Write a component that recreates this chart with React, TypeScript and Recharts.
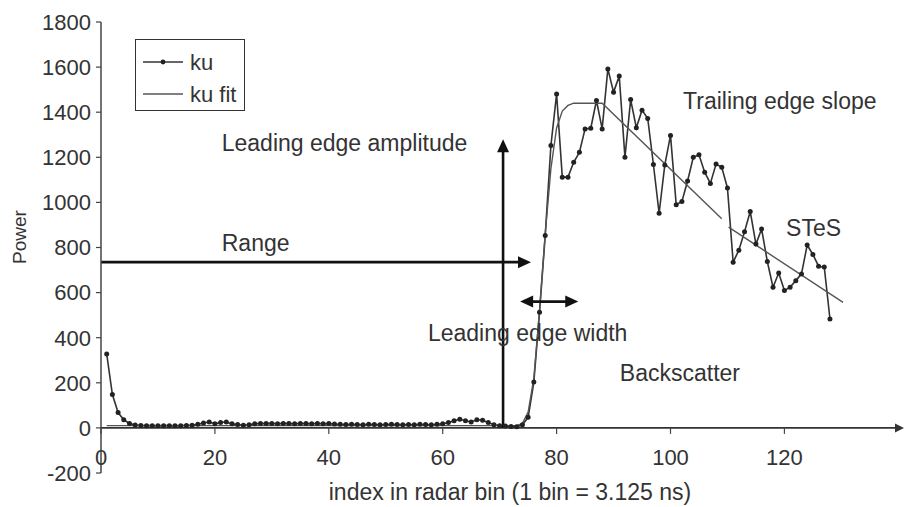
import React from 'react';
import { LineChart, Line, XAxis, YAxis, ReferenceLine, ReferenceDot, Legend } from 'recharts';

// ku waveform, one value per radar bin (bin 1 .. 128)
const kuPower = [
  328, 148, 68, 36, 20, 13, 11, 10, 10, 9,
  10, 10, 9, 10, 11, 12, 16, 22, 26, 18,
  24, 26, 18, 15, 12, 14, 18, 20, 19, 20,
  18, 20, 19, 18, 20, 19, 18, 20, 18, 19,
  17, 16, 15, 16, 15, 14, 16, 15, 14, 15,
  16, 15, 14, 15, 14, 16, 15, 14, 16, 18,
  24, 32, 38, 32, 26, 36, 34, 24, 14, 10,
  8, 6, 5, 14, 47, 203, 513, 853, 1252, 1481,
  1112, 1112, 1178, 1222, 1326, 1329, 1452, 1326, 1592, 1489,
  1560, 1200, 1456, 1331, 1409, 1372, 1168, 952, 1166, 1297,
  990, 1004, 1095, 1200, 1211, 1134, 1084, 1170, 1156, 1064,
  735, 788, 870, 960, 815, 882, 738, 624, 687, 609,
  624, 653, 683, 811, 769, 717, 713, 483,
];

// ku fit, read as key points (null = break in the line)
const fitBins = [1, 73, 74, 75, 76, 77, 78, 79, 80, 81, 82, 83, 88, 109, 109.6, 110.2, 130.3];
const fitPower = [10, 10, 20, 70, 220, 520, 860, 1150, 1330, 1405, 1430, 1440, 1440, 927, null, 890, 557];

const powerTicks = [-200, 0, 200, 400, 600, 800, 1000, 1200, 1400, 1600, 1800];
const binTicks = [0, 20, 40, 60, 80, 100, 120];

const kuData = kuPower.map((v, i) => ({ bin: i + 1, ku: v }));
const fitData = fitBins.map((b, i) => ({ bin: b, fit: fitPower[i] }));

const FONT = '"Liberation Sans", Arial, Helvetica, sans-serif';
const TEXT = '#333';

const W = 908;
const H = 507;
const X_AXIS_H = 34;
const M = { top: 22, right: 4, left: 11, bottom: 0 };
const PLOT_H = H - M.top - M.bottom - X_AXIS_H;
const ZERO_Y = M.top + (1800 / 2000) * PLOT_H;

// annotation arrows, in data units
const arrows = [
  { from: { x: 70.6, y: 0 }, to: { x: 70.6, y: 1280 }, both: false },
  { from: { x: 0, y: 735 }, to: { x: 75.5, y: 735 }, both: false },
  { from: { x: 73.6, y: 560 }, to: { x: 83.8, y: 560 }, both: true },
];

const notes = [
  { x: 21.2, y: 1264, text: 'Leading edge amplitude' },
  { x: 21.2, y: 820, text: 'Range' },
  { x: 57.4, y: 421, text: 'Leading edge width' },
  { x: 91.1, y: 244, text: 'Backscatter' },
  { x: 102.2, y: 1450, text: 'Trailing edge slope' },
  { x: 120.3, y: 887, text: 'STeS' },
];

const head = (x: number, y: number, ang: number, len: number, half: number, color: string) => {
  const bx = x - len * Math.cos(ang);
  const by = y - len * Math.sin(ang);
  const px = -Math.sin(ang) * half;
  const py = Math.cos(ang) * half;
  return <polygon points={`${x},${y} ${bx + px},${by + py} ${bx - px},${by - py}`} fill={color} />;
};

const arrowShape = (both: boolean, len: number, half: number, width: number, color: string) => (p: any) => {
  const { x1, y1, x2, y2 } = p;
  const ang = Math.atan2(y2 - y1, x2 - x1);
  const sx = both ? x1 + (len - 2) * Math.cos(ang) : x1;
  const sy = both ? y1 + (len - 2) * Math.sin(ang) : y1;
  const ex = x2 - (len - 2) * Math.cos(ang);
  const ey = y2 - (len - 2) * Math.sin(ang);
  return (
    <g>
      <line x1={sx} y1={sy} x2={ex} y2={ey} stroke={color} strokeWidth={width} />
      {head(x2, y2, ang, len, half, color)}
      {both ? head(x1, y1, ang + Math.PI, len, half, color) : null}
    </g>
  );
};

const BinTick = (props: any) => {
  const { x, payload } = props;
  return (
    <g>
      <line x1={x} x2={x} y1={ZERO_Y} y2={ZERO_Y + 6} stroke="#444" strokeWidth={1.2} />
      <text x={x} y={465} textAnchor="middle" fontSize={22} fill={TEXT} fontFamily={FONT}>
        {payload.value}
      </text>
    </g>
  );
};

const LegendBox = () => (
  <div
    style={{
      width: 110,
      height: 72,
      boxSizing: 'border-box',
      border: '1.5px solid #333',
      background: '#fff',
      fontFamily: FONT,
      fontSize: 22,
      color: TEXT,
      position: 'relative',
    }}
  >
    <svg width={110} height={72} style={{ position: 'absolute', left: -1.5, top: -1.5 }}>
      <line x1={8} x2={48} y1={23} y2={23} stroke="#333" strokeWidth={1.6} />
      <circle cx={28} cy={23} r={2.4} fill="#222" />
      <line x1={8} x2={48} y1={55} y2={55} stroke="#555" strokeWidth={1.4} />
      <text x={55} y={23} dominantBaseline="central" fontSize={22} fill={TEXT} fontFamily={FONT}>ku</text>
      <text x={55} y={55} dominantBaseline="central" fontSize={22} fill={TEXT} fontFamily={FONT}>ku fit</text>
    </svg>
  </div>
);

export default function App() {
  return (
    <div style={{ position: 'absolute', left: 0, top: 0, width: W, height: H, background: '#fff' }}>
      <LineChart width={W} height={H} margin={M}>
        <XAxis
          dataKey="bin"
          type="number"
          domain={[0, 141]}
          ticks={binTicks}
          interval={0}
          allowDataOverflow
          axisLine={false}
          tickLine={false}
          height={X_AXIS_H}
          tick={BinTick}
          label={{
            content: () => (
              <text x={510} y={500} textAnchor="middle" fontSize={23} fill={TEXT} fontFamily={FONT}>
                index in radar bin (1 bin = 3.125 ns)
              </text>
            ),
          }}
        />
        <YAxis
          type="number"
          domain={[-200, 1800]}
          ticks={powerTicks}
          interval={0}
          width={90}
          tickSize={5}
          tickMargin={5}
          axisLine={{ stroke: '#444', strokeWidth: 1.5 }}
          tickLine={{ stroke: '#444', strokeWidth: 1.2 }}
          tick={{ fontSize: 22, fill: TEXT, fontFamily: FONT }}
          label={{
            content: () => (
              <text
                x={19}
                y={237}
                transform="rotate(-90, 19, 237)"
                textAnchor="middle"
                dominantBaseline="central"
                fontSize={19}
                fill={TEXT}
                fontFamily={FONT}
              >
                Power
              </text>
            ),
          }}
        />
        <ReferenceLine
          segment={[{ x: 0, y: 0 }, { x: 141, y: 0 }]}
          ifOverflow="visible"
          shape={arrowShape(false, 9, 4.5, 1.6, '#333')}
        />
        <Line
          data={kuData}
          dataKey="ku"
          name="ku"
          stroke="#333"
          strokeWidth={1.6}
          dot={{ r: 2.5, fill: '#222', stroke: 'none' }}
          activeDot={false}
          isAnimationActive={false}
        />
        <Line
          data={fitData}
          dataKey="fit"
          name="ku fit"
          type="linear"
          stroke="#555"
          strokeWidth={1.4}
          dot={false}
          activeDot={false}
          connectNulls={false}
          isAnimationActive={false}
        />
        {arrows.map((a, i) => (
          <ReferenceLine
            key={'arrow' + i}
            segment={[a.from, a.to]}
            ifOverflow="visible"
            shape={arrowShape(a.both, 13, 6, 2.6, '#111')}
          />
        ))}
        {notes.map((n) => (
          <ReferenceDot
            key={n.text}
            x={n.x}
            y={n.y}
            r={0}
            fill="none"
            stroke="none"
            ifOverflow="visible"
            label={{
              content: (lp: any) => (
                <text
                  x={lp.viewBox.x}
                  y={lp.viewBox.y}
                  dominantBaseline="central"
                  fontSize={23}
                  fill={TEXT}
                  fontFamily={FONT}
                >
                  {n.text}
                </text>
              ),
            }}
          />
        ))}
        <Legend
          layout="horizontal"
          verticalAlign="middle"
          align="center"
          content={LegendBox}
          wrapperStyle={{ left: 135, top: 39, width: 110, height: 72 }}
        />
      </LineChart>
    </div>
  );
}
